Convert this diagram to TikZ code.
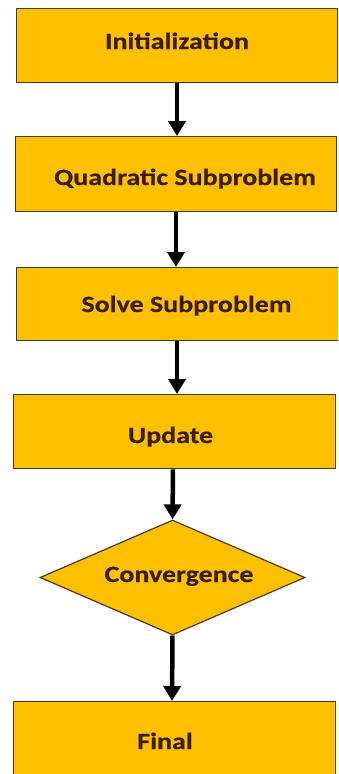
\documentclass[tikz,border=0pt]{standalone}
\usepackage{fontspec}
\setmainfont{Carlito}[FakeStretch=1.2,BoldFeatures={FakeBold=0.6}]
\usetikzlibrary{arrows.meta,shapes.geometric}
\definecolor{boxfill}{HTML}{FFC000}
\definecolor{boxline}{HTML}{4A3C12}
\definecolor{labeltext}{HTML}{3A1E00}
\begin{document}
\begin{tikzpicture}[x=1pt,y=-1pt,
  stepbox/.style={draw=boxline,fill=boxfill,line width=1.4pt,inner sep=0pt,anchor=north west},
  decision/.style={diamond,draw=boxline,fill=boxfill,line width=1.2pt,inner sep=0pt,
    minimum width=265pt,minimum height=115pt,aspect=2.3},
  steplabel/.style={anchor=base,inner sep=0pt,text=labeltext,font=\fontsize{23.3}{27}\selectfont\bfseries},
  flow/.style={line width=4.5pt,-{Triangle[width=17pt,length=15pt]}}]
\useasboundingbox (0,0) rectangle (338,774);
\clip (0,0) rectangle (338,774);

% process boxes (sized by their corners)
\node[stepbox,minimum width=321pt,minimum height=74pt] (b1) at (16,8) {};
\node[stepbox,minimum width=321pt,minimum height=75pt] (b2) at (15,136) {};
\node[stepbox,minimum width=326pt,minimum height=73pt] (b3) at (16,267) {};
\node[stepbox,minimum width=322pt,minimum height=74pt] (b4) at (13,394) {};
\node[decision] (d5) at (172.5,577.5) {};
\node[stepbox,minimum width=322pt,minimum height=100pt] (b6) at (13,701) {};

% labels
\node[steplabel] (t1) at (177,49) {Initialization};
\node[steplabel] (t2) at (185,185) {Quadratic Subproblem};
\node[steplabel] (t3) at (186.5,312) {Solve Subproblem};
\node[steplabel] (t4) at (170.5,443) {Update};
\node[steplabel] (t5) at (179,582) {Convergence};
\node[steplabel] (t6) at (165,749) {Final};

% connectors
\draw[flow] (b1.south -| 177,0) -- (b2.north -| 177,0);
\draw[flow] (b2.south -| 176,0) -- (b3.north -| 176,0);
\draw[flow] (b3.south -| 177,0) -- (b4.north -| 177,0);
\draw[flow] (b4.south -| 173,0) -- (d5.north);
\draw[flow] (d5.south) -- (b6.north -| 172,0);
\end{tikzpicture}
\end{document}
